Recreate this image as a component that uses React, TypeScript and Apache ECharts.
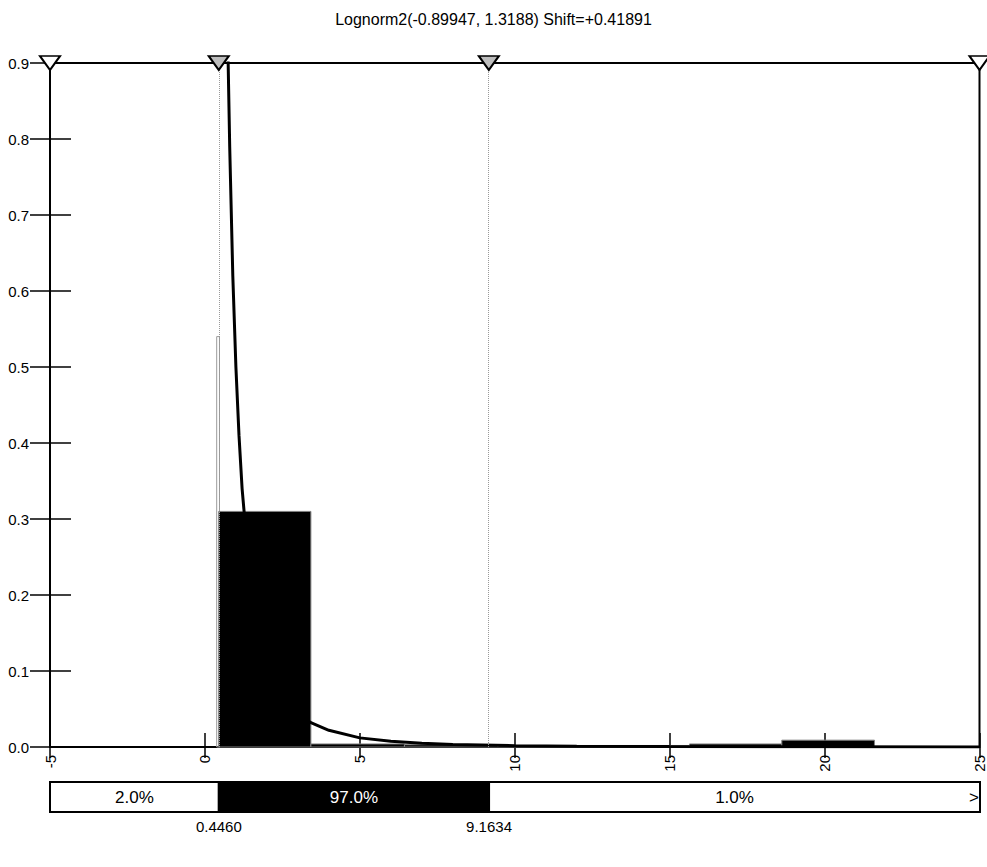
import React, { useEffect, useRef } from "react";
import * as echarts from "echarts";

// ---- data ----
const titleText = "Lognorm2(-0.89947, 1.3188) Shift=+0.41891";

const binStart = [0.446, 3.42, 6.44, 9.46, 12.55, 15.64, 18.62];
const binEnd = [3.42, 6.44, 9.46, 12.55, 15.64, 18.62, 21.61];
const binDensity = [0.31, 0.004, 0.003, 0.002, 0.002, 0.004, 0.009];

const spikeStart = [0.38];
const spikeEnd = [0.47];
const spikeDensity = [0.54];

const curveX = [0.7, 0.75, 0.8, 0.9, 1.0, 1.1, 1.2, 1.35, 1.5, 1.75, 2.0, 2.5, 3.0, 3.42, 4.0, 5.0, 6.0, 7.0, 8.0, 10.0, 12.0, 15.0, 20.0, 25.0];
const curveY = [1.03, 0.9, 0.79, 0.62, 0.5, 0.41, 0.34, 0.27, 0.21, 0.152, 0.113, 0.068, 0.044, 0.032, 0.022, 0.012, 0.0075, 0.005, 0.0034, 0.0018, 0.001, 0.0005, 0.0002, 0.0001];

const markerX = [-5, 0.446, 9.1634, 25];
const cutoffs = [0.446, 9.1634];
const cutoffLabels = ["0.4460", "9.1634"];
const bandEdges = [-5, 0.446, 9.1634, 25];
const bandLabels = ["2.0%", "97.0%", "1.0%"];

const xMin = -5;
const xMax = 25;
const xInterval = 5;
const yMin = 0;
const yMax = 0.9;
const yInterval = 0.1;

const FONT = '"Liberation Sans", Arial, sans-serif';

export default function App() {
  const ref = useRef<HTMLDivElement>(null);

  useEffect(() => {
    if (!ref.current) return;
    const chart = echarts.init(ref.current, null, { renderer: "svg" });

    const bins = binStart.map((s, i) => [s, binEnd[i], binDensity[i]]);
    const spikes = spikeStart.map((s, i) => [s, spikeEnd[i], spikeDensity[i]]);
    const curve = curveX.map((x, i) => [x, curveY[i]]);
    const markers = markerX.map((x) => [x, yMax]);
    const band = bandLabels.map((l, i) => [bandEdges[i], bandEdges[i + 1], i]);
    const cut = cutoffs.map((c, i) => [c, i]);

    const option: any = {
      animation: false,
      backgroundColor: "#fff",
      title: {
        text: titleText,
        left: "center",
        top: 6,
        textStyle: { fontSize: 16, fontWeight: "normal", color: "#000", fontFamily: FONT },
      },
      grid: [
        { left: 50, right: 7, top: 63, bottom: 120, show: true, borderColor: "#000", borderWidth: 2, backgroundColor: "transparent" },
        { left: 50, right: 7, top: 782, height: 30, show: false },
      ],
      xAxis: [
        {
          type: "value", gridIndex: 0, min: xMin, max: xMax, interval: xInterval, position: "bottom", offset: 11,
          axisLine: { show: false, onZero: false },
          axisTick: { show: true, inside: true, length: 25, lineStyle: { color: "#000", width: 1.5 } },
          axisLabel: { rotate: 90, margin: -3, fontSize: 15, color: "#000", fontFamily: FONT },
          splitLine: { show: false },
        },
        { type: "value", gridIndex: 1, min: xMin, max: xMax, show: false },
      ],
      yAxis: [
        {
          type: "value", gridIndex: 0, min: yMin, max: yMax, interval: yInterval, position: "left", offset: 20,
          axisLine: { show: false, onZero: false },
          axisTick: { show: true, inside: true, length: 41, lineStyle: { color: "#000", width: 1.5 } },
          axisLabel: { margin: 1, fontSize: 15, color: "#000", fontFamily: FONT, formatter: (v: number) => v.toFixed(1) },
          splitLine: { show: false },
        },
        { type: "value", gridIndex: 1, min: 0, max: 1, show: false },
      ],
      series: [
        {
          type: "custom",
          name: "spike",
          xAxisIndex: 0,
          yAxisIndex: 0,
          data: spikes,
          encode: { x: [0, 1], y: 2 },
          renderItem: (params: any, api: any) => {
            const p0 = api.coord([api.value(0), api.value(2)]);
            const p1 = api.coord([api.value(1), 0]);
            return {
              type: "rect",
              shape: { x: p0[0], y: p0[1], width: p1[0] - p0[0], height: p1[1] - p0[1] },
              style: { fill: "none", stroke: "#9a9a9a", lineWidth: 1 },
            };
          },
          z: 2,
        },
        {
          type: "custom",
          name: "histogram",
          xAxisIndex: 0,
          yAxisIndex: 0,
          data: bins,
          encode: { x: [0, 1], y: 2 },
          renderItem: (params: any, api: any) => {
            const p0 = api.coord([api.value(0), api.value(2)]);
            const p1 = api.coord([api.value(1), 0]);
            return {
              type: "rect",
              shape: { x: p0[0], y: p0[1], width: p1[0] - p0[0], height: Math.max(p1[1] - p0[1], 1) },
              style: { fill: "#000", stroke: "#808080", lineWidth: 1 },
            };
          },
          z: 3,
        },
        {
          type: "line",
          name: "pdf",
          xAxisIndex: 0,
          yAxisIndex: 0,
          data: curve,
          showSymbol: false,
          clip: true,
          lineStyle: { color: "#000", width: 3 },
          itemStyle: { color: "#000" },
          z: 4,
          markLine: {
            silent: true,
            symbol: ["none", "none"],
            label: { show: false },
            lineStyle: { color: "#999", type: "dotted", width: 1 },
            data: cutoffs.map((c) => ({ xAxis: c })),
          },
        },
        {
          type: "scatter",
          name: "markers",
          xAxisIndex: 0,
          yAxisIndex: 0,
          data: markers,
          clip: false,
          symbol: "triangle",
          symbolRotate: 180,
          symbolSize: [20, 14],
          itemStyle: {
            color: (p: any) => (p.dataIndex === 0 || p.dataIndex === markerX.length - 1 ? "#fff" : "#bdbdbd"),
            borderColor: "#000",
            borderWidth: 2,
            opacity: 1,
          },
          z: 10,
        },
        {
          type: "custom",
          name: "band",
          xAxisIndex: 1,
          yAxisIndex: 1,
          data: band,
          clip: false,
          encode: { x: [0, 1] },
          renderItem: (params: any, api: any) => {
            const i = api.value(2);
            const p0 = api.coord([api.value(0), 1]);
            const p1 = api.coord([api.value(1), 0]);
            const dark = i === 1;
            const children: any[] = [
              {
                type: "rect",
                shape: { x: p0[0], y: p0[1], width: p1[0] - p0[0], height: p1[1] - p0[1] },
                style: { fill: dark ? "#000" : "#fff", stroke: "#000", lineWidth: 2 },
              },
              {
                type: "text",
                style: {
                  text: bandLabels[i],
                  x: (p0[0] + p1[0]) / 2,
                  y: (p0[1] + p1[1]) / 2,
                  align: "center",
                  verticalAlign: "middle",
                  fill: dark ? "#fff" : "#000",
                  fontSize: 17,
                  fontFamily: FONT,
                },
              },
            ];
            if (i === bandLabels.length - 1) {
              children.push({
                type: "text",
                style: {
                  text: ">",
                  x: p1[0] - 6,
                  y: (p0[1] + p1[1]) / 2,
                  align: "center",
                  verticalAlign: "middle",
                  fill: "#000",
                  fontSize: 17,
                  fontFamily: FONT,
                },
              });
            }
            return { type: "group", children };
          },
          z: 5,
        },
        {
          type: "custom",
          name: "cutoffLabels",
          xAxisIndex: 1,
          yAxisIndex: 1,
          data: cut,
          clip: false,
          encode: { x: 0 },
          renderItem: (params: any, api: any) => {
            const p = api.coord([api.value(0), 0]);
            return {
              type: "text",
              style: {
                text: cutoffLabels[api.value(1)],
                x: p[0],
                y: p[1] + 7,
                align: "center",
                verticalAlign: "top",
                fill: "#000",
                fontSize: 15,
                fontFamily: FONT,
              },
            };
          },
          z: 5,
        },
      ],
    };

    chart.setOption(option);
    return () => chart.dispose();
  }, []);

  return (
    <div
      ref={ref}
      style={{ position: "fixed", left: 0, top: 0, width: 987, height: 867, background: "#fff" }}
    />
  );
}
